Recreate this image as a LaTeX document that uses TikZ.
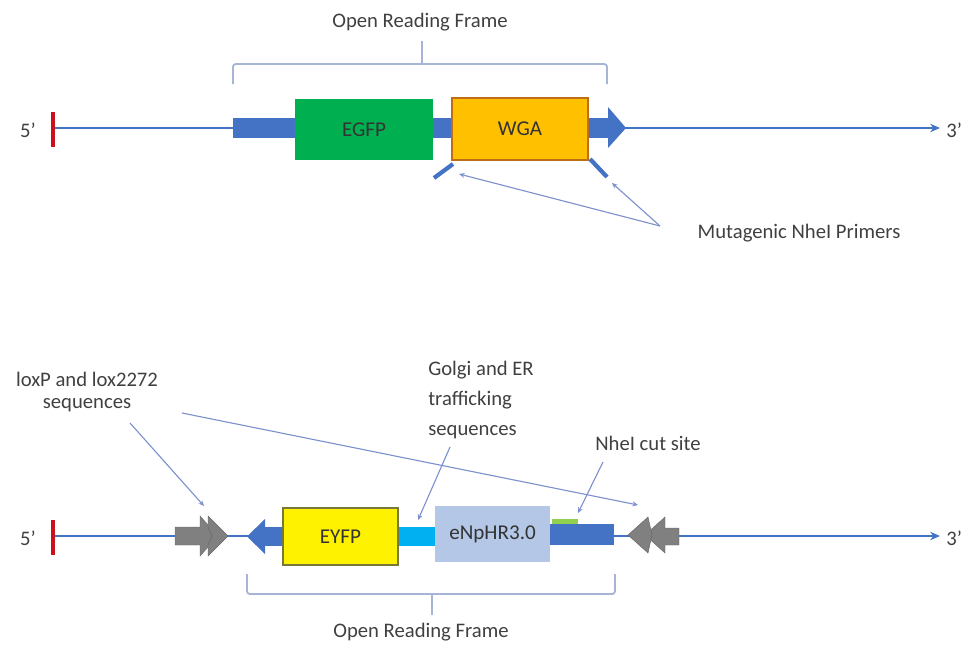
\documentclass[tikz,border=0pt]{standalone}
\usepackage{fontspec}
\setmainfont{Carlito}
\usetikzlibrary{arrows.meta,positioning}
\definecolor{dnablue}{RGB}{68,114,196}
\definecolor{ptrblue}{RGB}{125,145,205}
\definecolor{bracecol}{RGB}{165,180,215}
\definecolor{egfpgreen}{RGB}{0,176,80}
\definecolor{wgaorange}{RGB}{255,192,0}
\definecolor{wgaedge}{RGB}{190,110,20}
\definecolor{eyfpedge}{RGB}{120,120,60}
\definecolor{trafblue}{RGB}{0,176,240}
\definecolor{halogray}{RGB}{180,199,231}
\definecolor{loxgray}{RGB}{128,128,128}
\definecolor{cutgreen}{RGB}{146,208,80}
\definecolor{txtgray}{RGB}{64,64,64}
\definecolor{endred}{RGB}{200,16,30}
\tikzstyle{gene}=[rectangle, inner sep=0pt, anchor=center, text=black!80, font=\fontsize{15}{17}\selectfont]
\tikzstyle{annot}=[align=center, text=txtgray, inner sep=0pt, font=\fontsize{14.7}{16.3}\selectfont]
\tikzstyle{dna}=[draw=dnablue, line width=2pt]
\tikzstyle{ptr}=[draw=ptrblue, line width=0.8pt, -{Stealth[length=4pt,width=3.5pt]}]
\tikzstyle{bracket}=[draw=bracecol, line width=1.3pt, rounded corners=2pt]
\tikzstyle{endbar}=[draw=endred, line width=3.5pt]
\tikzstyle{lox}=[fill=loxgray, draw=loxgray!80!black, line width=0.3pt]

\begin{document}
\begin{tikzpicture}[x=0.025cm, y=-0.025cm]
	\useasboundingbox (0,0) rectangle (971,644);

	% top construct
	\coordinate (t5) at (53,128);
	\coordinate (t3) at (940,128);
	\draw[dna,-{Stealth[length=7pt,width=6pt]}] (t5) -- (t3);
	\draw[endbar] (53,112) -- (53,147);
	\node[annot, anchor=east] (top5) at (36,130) {5’};
	\node[annot, anchor=west] (top3) at (946,130) {3’};
	\fill[dnablue] (233,118) rectangle (608,138);
	\fill[dnablue] (608,107) -- (626,128) -- (608,148) -- cycle;
	\node[gene, fill=egfpgreen, minimum width=3.45cm, minimum height=1.525cm] (egfp) at (364,129.5) {EGFP};
	\node[gene, fill=wgaorange, draw=wgaedge, line width=1pt, minimum width=3.4cm, minimum height=1.55cm] (wga) at (520,129) {WGA};
	\draw[dnablue, line width=3pt] (453,164) -- (434,178);
	\draw[dnablue, line width=3pt] (590,159) -- (607,177);

	\draw[bracket] (233,84) -- (233,64) -- (607,64) -- (607,84);
	\draw[bracket] (422,64) -- (422,41);
	\node[annot] (orftop) at (420,22) {Open Reading Frame};

	\node[annot] (primers) at (799,233) {Mutagenic NheI Primers};
	\coordinate (pm) at (660,226);
	\coordinate (pl) at (459,174);
	\coordinate (pr) at (612,183);
	\draw[ptr] (pm) -- (pl);
	\draw[ptr] (pm) -- (pr);

	% bottom construct
	\coordinate (b5) at (53,536);
	\coordinate (b3) at (940,536);
	\draw[dna,-{Stealth[length=7pt,width=6pt]}] (b5) -- (b3);
	\draw[endbar] (53,520) -- (53,555);
	\node[annot, anchor=east] (bot5) at (36,538) {5’};
	\node[annot, anchor=west] (bot3) at (946,538) {3’};

	% lox sites
	\path[lox] (175,527) -- (200,527) -- (200,516) -- (218,536) -- (200,556) -- (200,545) -- (175,545) -- cycle;
	\path[lox] (208,527) -- (208,516) -- (228,536) -- (208,556) -- (208,545) -- (212,536) -- cycle;
	\path[lox] (679,528) -- (665,528) -- (665,517) -- (645,535) -- (665,553) -- (665,545) -- (679,545) -- cycle;
	\path[lox] (648,517) -- (628,535) -- (648,553) -- (652,535) -- cycle;

	\fill[dnablue] (264,527) rectangle (285,546);
	\fill[dnablue] (265,519) -- (247,536.5) -- (265,554) -- cycle;
	\fill[trafblue] (396,527) rectangle (437,546);
	\fill[dnablue] (548,524) rectangle (614,545);
	\fill[cutgreen] (552,519) rectangle (578,524);
	\node[gene, fill=yellow, draw=eyfpedge, line width=0.8pt, minimum width=2.875cm, minimum height=1.425cm] (eyfp) at (340.5,536.5) {EYFP};
	\node[gene, fill=halogray, minimum width=2.875cm, minimum height=1.4cm] (enphr) at (492.5,534) {eNpHR3.0};

	\draw[bracket] (247,574) -- (247,594) -- (615,594) -- (615,574);
	\draw[bracket] (432,594) -- (432,615);
	\node[annot] (orfbot) at (421,632) {Open Reading Frame};

	% labels and pointers
	\node[annot] (loxlabel) at (87,392) {loxP and lox2272\\sequences};
	\node[annot, align=left, anchor=west, font=\fontsize{14.7}{21.3}\selectfont] (golgi) at (428,400) {Golgi and ER\\trafficking\\sequences};
	\node[annot] (nhecut) at (648,443) {NheI cut site};
	\coordinate (loxa) at (130,423);
	\coordinate (loxb) at (182,413);
	\coordinate (trafa) at (450,447);
	\coordinate (cuta) at (603,462);
	\coordinate (loxl) at (204,506);
	\coordinate (loxr) at (638,505);
	\coordinate (traf) at (418,520);
	\coordinate (cut) at (578,513);
	\draw[ptr] (loxa) -- (loxl);
	\draw[ptr] (loxb) -- (loxr);
	\draw[ptr] (trafa) -- (traf);
	\draw[ptr] (cuta) -- (cut);
\end{tikzpicture}
\end{document}
